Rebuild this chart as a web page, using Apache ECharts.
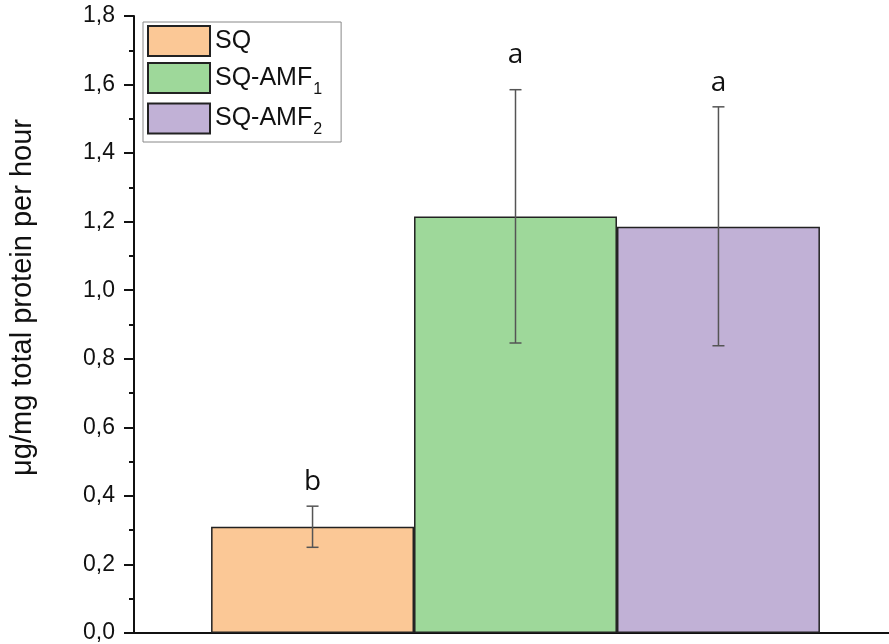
<!DOCTYPE html>
<html>
<head>
<meta charset="utf-8">
<script src="https://cdn.jsdelivr.net/npm/echarts@6/dist/echarts.min.js"></script>
<style>
    html, body { margin: 0; padding: 0; background: #fff; }
    #chart { width: 889px; height: 644px; }
</style>
</head>
<body>
<div id="chart"></div>
<script>
    // one category on the x axis, three treatments side by side
    var categories = [''];
    var groupNames = ['SQ', 'SQ-AMF1', 'SQ-AMF2'];
    var means = [0.31, 1.215, 1.185];
    var errLow = [0.25, 0.846, 0.838];
    var errHigh = [0.37, 1.585, 1.535];
    var letters = ['b', 'a', 'a'];
    var letterAt = [0.44, 1.686, 1.604];
    var colors = ['#FBC896', '#9ED89A', '#C1B1D6'];

    var BAR_FRAC = 0.266;

    var chart = echarts.init(document.getElementById('chart'));

    var barSeries = groupNames.map(function (name, i) {
        return {
            name: name,
            type: 'bar',
            data: [means[i]],
            barWidth: (BAR_FRAC * 100) + '%',
            barGap: 0,
            itemStyle: {
                color: colors[i],
                borderColor: '#222',
                borderWidth: 1.5
            },
            z: 2
        };
    });

    var errSeries = {
        type: 'custom',
        name: 'err',
        z: 5,
        data: groupNames.map(function (n, i) {
            return [0, i, errLow[i], errHigh[i], letterAt[i]];
        }),
        encode: { x: 0, y: [2, 3, 4] },
        renderItem: function (params, api) {
            var i = api.value(1);
            var c = api.coord([0, 0]);
            var band = api.size([1, 0])[0];
            var w = band * BAR_FRAC;
            var x = c[0] + (i - 1) * w;
            var lo = api.coord([0, api.value(2)])[1];
            var hi = api.coord([0, api.value(3)])[1];
            var ly = api.coord([0, api.value(4)])[1];
            var ls = { stroke: '#555', lineWidth: 1.5 };
            return {
                type: 'group',
                children: [
                    { type: 'line', shape: { x1: x, y1: lo, x2: x, y2: hi }, style: ls },
                    { type: 'line', shape: { x1: x - 6, y1: lo, x2: x + 6, y2: lo }, style: ls },
                    { type: 'line', shape: { x1: x - 6, y1: hi, x2: x + 6, y2: hi }, style: ls },
                    {
                        type: 'text', x: x, y: ly,
                        style: {
                            text: letters[params.dataIndex],
                            fontSize: 28, fontFamily: 'Open Sans',
                            fill: '#111',
                            align: 'center', verticalAlign: 'middle',
                            textAlign: 'center', textVerticalAlign: 'middle'
                        }
                    }
                ]
            };
        }
    };

    var option = {
        animation: false,
        backgroundColor: '#fff',
        textStyle: { fontFamily: 'Liberation Sans' },
        grid: { left: 134, right: -8, top: 16, bottom: 11, outerBoundsMode: 'none' },
        legend: {
            data: groupNames,
            orient: 'vertical',
            left: 143,
            top: 22,
            itemWidth: 62,
            itemHeight: 30,
            itemGap: 5,
            padding: [3, 19, 4, 4],
            borderColor: '#888',
            borderWidth: 1,
            icon: 'rect',
            formatter: function (name) {
                var m = name.match(/^(.*?)(\d)$/);
                return m ? '{t|' + m[1] + '}{sub|' + m[2] + '}' : '{t|' + name + '}';
            },
            textStyle: {
                fontSize: 24,
                color: '#111',
                rich: {
                    t: { fontSize: 25, fontFamily: 'Liberation Sans', color: '#111', verticalAlign: 'bottom' },
                    sub: { fontSize: 16, fontFamily: 'Liberation Sans', color: '#111', verticalAlign: 'bottom', padding: [0, 0, -7, 1] }
                }
            }
        },
        xAxis: {
            type: 'category',
            data: categories,
            axisLine: { lineStyle: { color: '#111', width: 2 } },
            axisTick: { alignWithLabel: true, length: 11, lineStyle: { color: '#111', width: 2 } },
            axisLabel: { show: false },
            splitLine: { show: false }
        },
        yAxis: {
            type: 'value',
            min: 0,
            max: 1.8,
            interval: 0.2,
            name: 'μg/mg total protein per hour',
            nameLocation: 'middle',
            nameGap: 97,
            nameTextStyle: { fontSize: 29, color: '#111', fontFamily: 'Liberation Sans', padding: [0, 0, 0, 54] },
            axisLine: { show: true, lineStyle: { color: '#111', width: 2 } },
            axisTick: { show: true, length: 10, lineStyle: { color: '#111', width: 2 } },
            minorTick: { show: true, splitNumber: 2, length: 5, lineStyle: { color: '#111', width: 2 } },
            axisLabel: {
                fontSize: 23,
                color: '#111',
                margin: 19,
                formatter: function (v) { return v.toFixed(1).replace('.', ','); }
            },
            splitLine: { show: false }
        },
        series: barSeries.concat([errSeries])
    };

    chart.setOption(option);
</script>
</body>
</html>
